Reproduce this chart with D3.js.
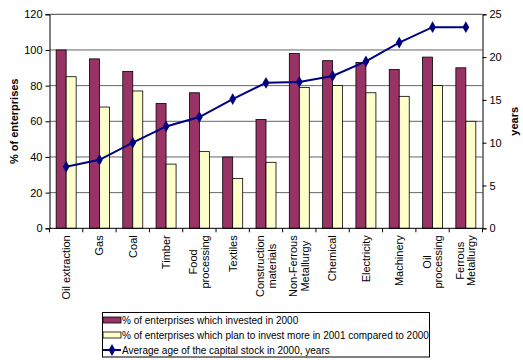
<!DOCTYPE html>
<html>
<head>
<meta charset="utf-8">
<script src="https://cdn.jsdelivr.net/npm/d3@7"></script>
<style>
  html, body { margin: 0; padding: 0; background: #fff; }
  svg { display: block; font-family: "Liberation Sans", Arial, sans-serif; }
</style>
</head>
<body>
<svg id="chart" width="523" height="360"></svg>
<script>
// Industries, in the order shown on the x axis (line breaks as "\n")
const categories = [
  "Oil extraction", "Gas", "Coal", "Timber", "Food\nprocessing", "Textiles",
  "Construction\nmaterials", "Non-Ferrous\nMetallurgy", "Chemical", "Electricity",
  "Machinery", "Oil\nprocessing", "Ferrous\nMetallurgy"
];
// % of enterprises which invested in 2000
const investedPct = [100, 95, 88, 70, 76, 40, 61, 98, 94, 93, 89, 96, 90];
// % of enterprises which plan to invest more in 2001 compared to 2000
const planPct = [85, 68, 77, 36, 43, 28, 37, 79, 80, 76, 74, 80, 60];
// Average age of the capital stock in 2000, years
const avgAge = [7.2, 8.0, 10.0, 11.9, 13.0, 15.1, 17.0, 17.1, 17.8, 19.5, 21.7, 23.5, 23.5];

const leftTicks = [0, 20, 40, 60, 80, 100, 120];
const rightTicks = [0, 5, 10, 15, 20, 25];
const seriesNames = [
  "% of enterprises which invested in 2000",
  "% of enterprises which plan to invest more in 2001 compared to 2000",
  "Average age of the capital stock in 2000, years"
];

const colInvest = "#993366", colPlan = "#FFFFCC", colLine = "#000080";

const svg = d3.select("#chart");
const plot = { left: 49.5, right: 482.5, top: 14.3, bottom: 228.3 };

const x = d3.scaleBand().domain(categories).range([plot.left, plot.right]).paddingInner(0).paddingOuter(0);
const yL = d3.scaleLinear().domain([0, 120]).range([plot.bottom, plot.top]);
const yR = d3.scaleLinear().domain([0, 25]).range([plot.bottom, plot.top]);

const bw = x.bandwidth();
const barW = bw * 0.3;
const barOff = (bw - 2 * barW) / 2;

// gridlines
svg.append("g").selectAll("line").data(leftTicks.filter(d => d > 0)).join("line")
  .attr("x1", plot.left).attr("x2", plot.right)
  .attr("y1", d => yL(d)).attr("y2", d => yL(d))
  .attr("stroke", d => d === 120 ? "#444" : "#666").attr("stroke-width", 1);

// bars
const bars = svg.append("g");
bars.selectAll("rect.inv").data(categories).join("rect")
  .attr("x", (c) => x(c) + barOff)
  .attr("y", (c, i) => yL(investedPct[i]))
  .attr("width", barW)
  .attr("height", (c, i) => yL(0) - yL(investedPct[i]))
  .attr("fill", colInvest).attr("stroke", "#000").attr("stroke-width", 0.8);
bars.selectAll("rect.plan").data(categories).join("rect")
  .attr("x", (c) => x(c) + barOff + barW)
  .attr("y", (c, i) => yL(planPct[i]))
  .attr("width", barW)
  .attr("height", (c, i) => yL(0) - yL(planPct[i]))
  .attr("fill", colPlan).attr("stroke", "#000").attr("stroke-width", 0.8);

// axes
const fontSize = 11;
const gL = svg.append("g").attr("transform", `translate(${plot.left},0)`)
  .call(d3.axisLeft(yL).tickValues(leftTicks).tickSize(4).tickPadding(3));
const gR = svg.append("g").attr("transform", `translate(${plot.right},0)`)
  .call(d3.axisRight(yR).tickValues(rightTicks).tickSize(4).tickPadding(3));
[gL, gR].forEach(g => {
  g.select(".domain").attr("stroke", "#000");
  g.selectAll(".tick line").attr("stroke", "#000");
  g.selectAll("text").attr("font-size", fontSize).attr("font-family", "Liberation Sans, Arial, sans-serif").attr("fill", "#000");
});

// x axis line and boundary ticks
const gX = svg.append("g");
gX.append("line").attr("x1", plot.left).attr("x2", plot.right)
  .attr("y1", plot.bottom).attr("y2", plot.bottom).attr("stroke", "#000");
gX.selectAll("line.t").data(categories.map(c => x(c)).concat([plot.right])).join("line")
  .attr("x1", d => d).attr("x2", d => d)
  .attr("y1", plot.bottom).attr("y2", plot.bottom + 4).attr("stroke", "#000");

// rotated category labels, each line centred within its block
const lbl = gX.selectAll("text.cat").data(categories).join("text")
  .attr("transform", c => `translate(${x(c) + bw / 2},${plot.bottom + 7}) rotate(-90)`)
  .attr("font-size", fontSize).attr("fill", "#000");
lbl.each(function (c) {
  const lines = c.split("\n");
  const t = d3.select(this);
  const lh = 11.5;
  lines.forEach((ln, k) => {
    t.append("tspan")
      .attr("y", (k - (lines.length - 1) / 2) * lh)
      .attr("dy", "0.35em")
      .attr("text-anchor", "middle")
      .text(ln);
  });
  // shift the block so its longest line ends at the axis
  const spans = t.selectAll("tspan").nodes();
  const maxW = d3.max(spans, s => s.getComputedTextLength());
  spans.forEach(s => d3.select(s).attr("x", -maxW / 2));
});

// line series
const line = d3.line()
  .x((d, i) => x(categories[i]) + bw / 2)
  .y(d => yR(d));
svg.append("path").datum(avgAge).attr("d", line)
  .attr("fill", "none").attr("stroke", colLine).attr("stroke-width", 2);
const diamond = d3.symbol().type(d3.symbolDiamond).size(40);
svg.append("g").selectAll("path").data(avgAge).join("path")
  .attr("transform", (d, i) => `translate(${x(categories[i]) + bw / 2},${yR(d)})`)
  .attr("d", diamond).attr("fill", colLine);

// axis titles
svg.append("text")
  .attr("transform", `translate(18,${(plot.top + plot.bottom) / 2}) rotate(-90)`)
  .attr("text-anchor", "middle").attr("font-size", 11).attr("font-weight", "bold")
  .text("% of enterprises");
svg.append("text")
  .attr("transform", `translate(518,${(plot.top + plot.bottom) / 2}) rotate(-90)`)
  .attr("text-anchor", "middle").attr("font-size", 11).attr("font-weight", "bold")
  .text("years");

// legend
const lg = svg.append("g");
lg.append("rect").attr("x", 102.5).attr("y", 312.5).attr("width", 327).attr("height", 44.5)
  .attr("fill", "#fff").attr("stroke", "#000");
const rowY = [320, 335, 350];
lg.append("rect").attr("x", 103).attr("y", rowY[0] - 3).attr("width", 18).attr("height", 6)
  .attr("fill", colInvest).attr("stroke", "#000").attr("stroke-width", 0.8);
lg.append("rect").attr("x", 103).attr("y", rowY[1] - 3).attr("width", 18).attr("height", 6)
  .attr("fill", colPlan).attr("stroke", "#000").attr("stroke-width", 0.8);
lg.append("line").attr("x1", 103).attr("x2", 121).attr("y1", rowY[2]).attr("y2", rowY[2])
  .attr("stroke", colLine).attr("stroke-width", 2);
lg.append("path").attr("transform", `translate(112,${rowY[2]})`).attr("d", diamond).attr("fill", colLine);
lg.selectAll("text").data(seriesNames).join("text")
  .attr("x", 122).attr("y", (d, i) => rowY[i]).attr("dy", "0.35em")
  .attr("font-size", 10).attr("fill", "#000")
  .text(d => d);
</script>
</body>
</html>
